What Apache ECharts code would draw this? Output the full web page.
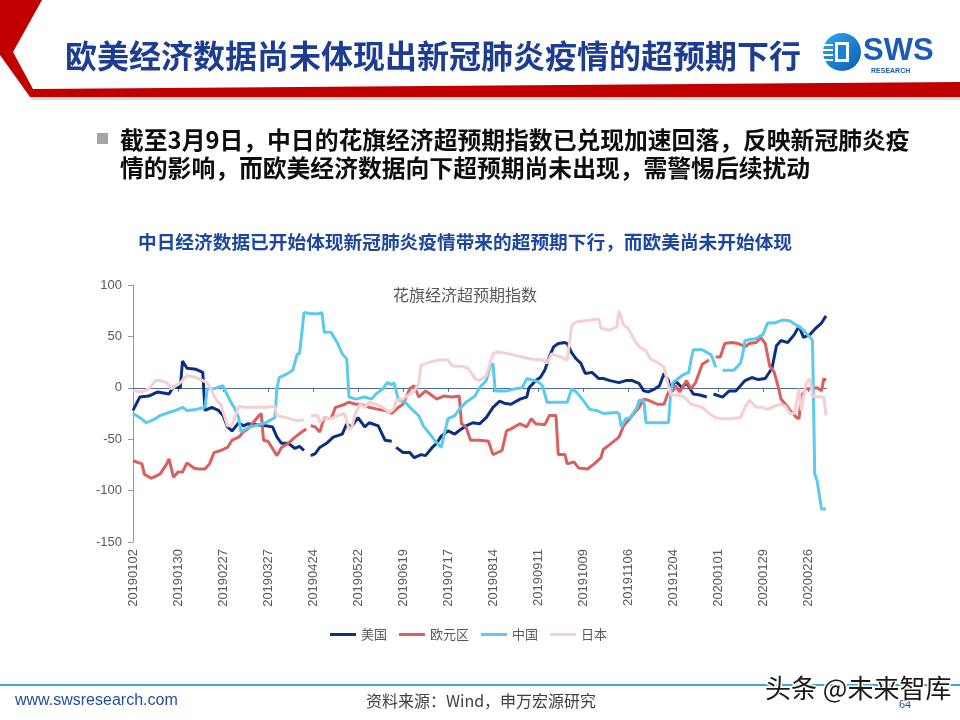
<!DOCTYPE html>
<html>
<head>
<meta charset="utf-8">
<script src="https://cdn.jsdelivr.net/npm/echarts@6/dist/echarts.min.js"></script>
<style>
  html, body { margin: 0; padding: 0; background: #fff; }
  #main { width: 960px; height: 720px; }
</style>
</head>
<body>
<div id="main"></div>
<script>
// x axis: trading day index from 20190102, one label every 20 trading days
var tickLabels = ['20190102', '20190130', '20190227', '20190327', '20190424', '20190522', '20190619', '20190717',
  '20190814', '20190911', '20191009', '20191106', '20191204', '20200101', '20200129', '20200226'];
var tickStep = 20;
var lastIndex = 308; // 20200309

// [trading day index, index value], '-' = gap in the line
var usData = [[0, -22], [3, -9], [7, -8], [11, -4], [16, -6], [18, 1], [21, 0], [22, 26], [24, 19], [28, 18], [31, 15],
  [32, -22], [35, -19], [38, -22], [40, -27], [42, -38], [44, -42], [47, -34], [49, -37], [51, -35], [59, -37], [62, -38],
  [64, -48], [66, -54], [69, -54], [72, -59], [74, -57], [76, -61], [77, '-'], [79, -66], [81, -64], [83, -58], [86, -54],
  [89, -48], [93, -45], [95, -35], [97, -38], [100, -29], [103, -38], [105, -34], [109, -37], [112, -51], [115, -52],
  [116, '-'], [117, -58], [120, -63], [123, -63], [125, -68], [128, -65], [130, -66], [133, -58], [135, -54], [137, -47],
  [140, -42], [143, -45], [146, -40], [148, -37], [151, -34], [154, -35], [157, -29], [160, -19], [163, -13], [165, -15],
  [168, -16], [172, -11], [175, -9], [176, 0], [179, 7], [181, 10], [183, 17], [185, 30], [187, 40], [189, 43], [192, 44],
  [193, 43], [195, 34], [197, 28], [199, 24], [201, 14], [204, 15], [207, 9], [209, 9], [212, 7], [216, 5], [219, 7],
  [222, 7], [225, 4], [227, -3], [229, -4], [232, -1], [234, 2], [236, 14], [238, 7], [239, -3], [241, 7], [244, 0],
  [246, 5], [249, -6], [252, -7], [255, -9], [256, '-'], [258, -6], [262, -9], [265, -3], [268, -3], [272, 7], [275, 10],
  [278, 8], [281, 9], [284, 19], [286, 41], [288, 46], [291, 44], [294, 52], [296, 60], [298, 49], [301, 52], [303, 57],
  [306, 63], [308, 70]];

var euroData = [[0, -71], [4, -74], [5, -84], [8, -88], [12, -84], [15, -74], [16, -69], [18, -87], [20, -82], [22, -82],
  [24, -73], [27, -78], [29, -79], [32, -79], [34, -74], [36, -63], [39, -61], [42, -58], [44, -51], [47, -48], [49, -43],
  [51, -40], [53, -35], [56, -27], [57, -25], [58, -51], [60, -52], [64, -66], [66, -58], [69, -54], [72, -48], [75, -43],
  [77, -40], [78, '-'], [79, -37], [81, -38], [83, -43], [85, -29], [88, -30], [90, -19], [93, -17], [96, -14], [99, -16],
  [101, -16], [105, -19], [109, -21], [112, -22], [115, -25], [118, -19], [120, -16], [123, -1], [125, 2], [127, -9],
  [130, -3], [132, -6], [135, -11], [138, -8], [142, -9], [145, -8], [146, -35], [148, -38], [150, -51], [154, -51],
  [158, -52], [160, -65], [164, -61], [166, -42], [168, -40], [172, -35], [175, -38], [177, -30], [179, -35], [183, -36],
  [185, -27], [188, -27], [189, -65], [192, -65], [193, -74], [196, -72], [198, -78], [202, -79], [205, -74], [208, -68],
  [209, -60], [212, -55], [216, -48], [218, -37], [220, -32], [223, -24], [225, -19], [227, -11], [229, -12], [233, -16],
  [236, -16], [238, -4], [240, -3], [241, 2], [243, -4], [246, 7], [248, -1], [250, 5], [253, 23], [256, 27], [257, '-'],
  [259, 30], [261, 30], [263, 43], [266, 44], [269, 43], [272, 40], [274, 43], [277, 44], [279, 49], [281, 43], [283, 21],
  [285, 15], [287, -1], [288, -11], [290, -16], [292, -22], [295, -29], [296, -30], [297, -9], [299, -1], [301, -1],
  [304, 0], [306, -3], [307, 9], [308, 7]];

var chinaData = [[0, -25], [3, -29], [6, -34], [10, -30], [12, -27], [16, -24], [19, -22], [22, -19], [24, -22], [28, -21],
  [32, -19], [33, -1], [36, -1], [40, 2], [41, -3], [44, -16], [45, -19], [47, -29], [48, -43], [50, -40], [54, -37],
  [59, -34], [63, -29], [64, 0], [65, 10], [68, 13], [71, 17], [73, 33], [74, 33], [76, 73], [77, 73], [79, 72], [82, 72],
  [84, 73], [85, 54], [88, 54], [91, 43], [93, 33], [95, 28], [96, -9], [99, -11], [103, -9], [106, -11], [108, -6],
  [111, -1], [113, 5], [115, 3], [116, 5], [118, -12], [121, -14], [124, -21], [127, -27], [129, -37], [132, -45],
  [134, -51], [137, -58], [140, -30], [143, -27], [145, -21], [148, -14], [152, -8], [154, 0], [157, 7], [159, 23],
  [160, 23], [161, -3], [166, -3], [170, -1], [173, 0], [175, 9], [180, 6], [182, 2], [184, -14], [193, -14], [195, -1],
  [197, -4], [200, -12], [203, -21], [206, -22], [209, -25], [215, -24], [216, -25], [217, -38], [219, -30], [221, -29],
  [224, -19], [225, -12], [227, -12], [228, -34], [238, -34], [239, -4], [240, 5], [244, 12], [247, 15], [248, 27],
  [249, 37], [253, 37], [257, 32], [259, 20], [260, '-'], [262, 17], [267, 17], [270, 24], [271, 33], [272, 46], [277, 48],
  [280, 52], [282, 63], [285, 63], [289, 66], [292, 65], [297, 58], [301, 49], [302, 46], [303, -84], [304, -90],
  [306, -118], [308, -118]];

var japanData = [[0, -3], [4, -4], [7, -1], [10, 7], [12, 7], [15, 5], [17, -1], [21, 5], [24, 12], [28, 10], [31, 7],
  [33, 5], [35, -3], [37, -12], [39, -16], [42, -37], [44, -37], [47, -18], [50, -19], [54, -19], [59, -19], [63, -18],
  [64, -27], [68, -29], [71, -31], [74, -32], [76, -31], [77, '-'], [79, -27], [82, -27], [83, -34], [85, -29], [88, -30],
  [91, -27], [94, -25], [96, -40], [97, -40], [99, -24], [101, -16], [103, -19], [105, -14], [108, -16], [111, -19],
  [114, -24], [116, -20], [117, -12], [120, -11], [123, -6], [125, -3], [127, 4], [128, 22], [132, 25], [136, 27],
  [140, 27], [142, 21], [146, 21], [149, 19], [152, 9], [154, 7], [157, 12], [160, 33], [162, 35], [167, 33], [173, 30],
  [177, 28], [182, 27], [184, 24], [186, 33], [190, 30], [193, 27], [195, 61], [197, 64], [203, 66], [207, 67], [208, 58],
  [212, 56], [215, 59], [216, 75], [218, 61], [220, 58], [223, 46], [225, 40], [228, 36], [230, 28], [233, 25], [236, 20],
  [238, 2], [239, -7], [242, -7], [245, -9], [248, -16], [250, -17], [253, -19], [256, -25], [259, -29], [261, -30],
  [265, -30], [270, -29], [272, -19], [274, -12], [277, -19], [280, -19], [282, -21], [285, -18], [288, -16], [290, -18],
  [292, -25], [294, -25], [296, -1], [297, -22], [299, 4], [301, 9], [302, -8], [305, -9], [307, -9], [308, -27]];

var seriesNames = ['美国', '欧元区', '中国', '日本'];
var seriesColors = ['#0c2f80', '#d9605f', '#5ccaec', '#f6cfd2'];

var cjk = '"Noto Sans CJK SC", sans-serif';
var latin = '"Liberation Sans", Arial, sans-serif';

var tickIdx = tickLabels.map(function(t, i) {
  return i * tickStep;
});

var myChart = echarts.init(document.getElementById('main'));

function lineSeries(name, data, color) {
  return {
    name: name,
    type: 'line',
    data: data,
    showSymbol: false,
    symbol: 'none',
    connectNulls: false,
    lineStyle: { width: 3, color: color },
    itemStyle: { color: color }
  };
}

myChart.setOption({
  animation: false,
  color: seriesColors,
  grid: { left: 133, right: 134, top: 285, bottom: 178 },
  legend: {
    data: seriesNames,
    left: 325,
    top: 623,
    icon: 'rect',
    itemWidth: 26,
    itemHeight: 3,
    itemGap: 12,
    textStyle: { color: '#595959', fontSize: 13, fontFamily: cjk }
  },
  xAxis: [
    {
      type: 'value',
      min: 0,
      max: lastIndex,
      position: 'bottom',
      axisLine: { show: false, onZero: false },
      axisTick: { show: false },
      splitLine: { show: false },
      axisLabel: {
        customValues: tickIdx,
        rotate: 90,
        margin: 7,
        color: '#595959',
        fontSize: 13,
        fontFamily: latin,
        formatter: function(v) {
          return tickLabels[Math.round(v / tickStep)] || '';
        }
      }
    },
    {
      type: 'value',
      min: 0,
      max: lastIndex,
      position: 'bottom',
      axisLine: { show: true, onZero: true, lineStyle: { color: '#4f6f90', width: 1 } },
      axisTick: { show: true, customValues: tickIdx, length: 4, lineStyle: { color: '#4f6f90' } },
      axisLabel: { show: false },
      splitLine: { show: false }
    }
  ],
  yAxis: {
    type: 'value',
    min: -150,
    max: 100,
    interval: 50,
    axisLine: { show: true, lineStyle: { color: '#7f9ec4', width: 1 } },
    axisTick: { show: true, length: 5, lineStyle: { color: '#7f9ec4' } },
    splitLine: { show: false },
    axisLabel: { color: '#595959', fontSize: 13, fontFamily: latin, margin: 11 }
  },
  series: [
    lineSeries(seriesNames[0], usData, seriesColors[0]),
    lineSeries(seriesNames[1], euroData, seriesColors[1]),
    lineSeries(seriesNames[2], chinaData, seriesColors[2]),
    lineSeries(seriesNames[3], japanData, seriesColors[3])
  ],
  graphic: [
    // header band
    {
      type: 'polygon',
      shape: { points: [[0, 0], [42, 0], [13, 52], [33, 89], [960, 82], [960, 97], [30, 97], [0, 55]] },
      style: { fill: '#c00000' },
      silent: true
    },
    {
      type: 'polygon',
      shape: { points: [[30, 97], [960, 97], [960, 100], [32, 100]] },
      style: { fill: '#d9d9d9' },
      silent: true
    },
    {
      type: 'text',
      x: 65,
      y: 56,
      style: {
        text: '欧美经济数据尚未体现出新冠肺炎疫情的超预期下行',
        font: 'bold 32px ' + cjk,
        fill: '#1c3d92',
        verticalAlign: 'middle'
      }
    },
    // SWS logo
    {
      type: 'circle',
      shape: { cx: 842, cy: 52, r: 19 },
      style: {
        fill: new echarts.graphic.LinearGradient(0, 0, 1, 1, [
          { offset: 0, color: '#35a8ee' },
          { offset: 1, color: '#0a5bb5' }
        ])
      }
    },
    { type: 'rect', shape: { x: 823, y: 44, width: 10, height: 2 }, style: { fill: '#fff' } },
    { type: 'rect', shape: { x: 823, y: 49, width: 10, height: 2 }, style: { fill: '#fff' } },
    { type: 'rect', shape: { x: 823, y: 54, width: 10, height: 2 }, style: { fill: '#fff' } },
    { type: 'rect', shape: { x: 823, y: 59, width: 10, height: 2 }, style: { fill: '#fff' } },
    { type: 'rect', shape: { x: 835, y: 42, width: 14, height: 20 }, style: { fill: '#fff' } },
    { type: 'rect', shape: { x: 838, y: 45, width: 8, height: 14 }, style: { fill: '#1b7fd6' } },
    {
      type: 'text',
      x: 863,
      y: 51,
      style: { text: 'SWS', font: 'bold 31px ' + latin, fill: '#1a5cb8', verticalAlign: 'middle' }
    },
    {
      type: 'text',
      x: 871,
      y: 71,
      style: { text: 'RESEARCH', font: 'bold 7px ' + latin, fill: '#1a5cb8', verticalAlign: 'middle' }
    },
    // bullet text
    { type: 'rect', shape: { x: 97, y: 133, width: 11, height: 11 }, style: { fill: '#a6a6a6' } },
    {
      type: 'text',
      x: 120,
      y: 140,
      style: {
        text: '截至3月9日，中日的花旗经济超预期指数已兑现加速回落，反映新冠肺炎疫',
        font: 'bold 23.8px ' + cjk,
        fill: '#0d0d0d',
        verticalAlign: 'middle'
      }
    },
    {
      type: 'text',
      x: 120,
      y: 168,
      style: {
        text: '情的影响，而欧美经济数据向下超预期尚未出现，需警惕后续扰动',
        font: 'bold 23.8px ' + cjk,
        fill: '#0d0d0d',
        verticalAlign: 'middle'
      }
    },
    // chart titles
    {
      type: 'text',
      x: 465,
      y: 242,
      style: {
        text: '中日经济数据已开始体现新冠肺炎疫情带来的超预期下行，而欧美尚未开始体现',
        font: 'bold 18.7px ' + cjk,
        fill: '#1c46a0',
        align: 'center',
        verticalAlign: 'middle'
      }
    },
    {
      type: 'text',
      x: 465,
      y: 295,
      style: {
        text: '花旗经济超预期指数',
        font: '16px ' + cjk,
        fill: '#595959',
        align: 'center',
        verticalAlign: 'middle'
      }
    },
    // footer
    { type: 'rect', shape: { x: 0, y: 684, width: 960, height: 2 }, style: { fill: '#45a5d8' } },
    {
      type: 'text',
      x: 15,
      y: 701,
      style: { text: 'www.swsresearch.com', font: '16px ' + latin, fill: '#1f4e9e', verticalAlign: 'middle' }
    },
    {
      type: 'text',
      x: 481,
      y: 701,
      style: {
        text: '资料来源：Wind，申万宏源研究',
        font: '16px ' + cjk,
        fill: '#404040',
        align: 'center',
        verticalAlign: 'middle'
      }
    },
    {
      type: 'text',
      x: 905,
      y: 705,
      style: { text: '64', font: '11px ' + latin, fill: '#1f4e9e', align: 'center', verticalAlign: 'middle' }
    },
    {
      type: 'text',
      x: 765,
      y: 688,
      z: 100,
      style: {
        text: '头条 @未来智库',
        font: '26px ' + cjk,
        fill: '#1a1a1a',
        stroke: '#ffffff',
        lineWidth: 3,
        verticalAlign: 'middle'
      }
    }
  ]
});
</script>
</body>
</html>
